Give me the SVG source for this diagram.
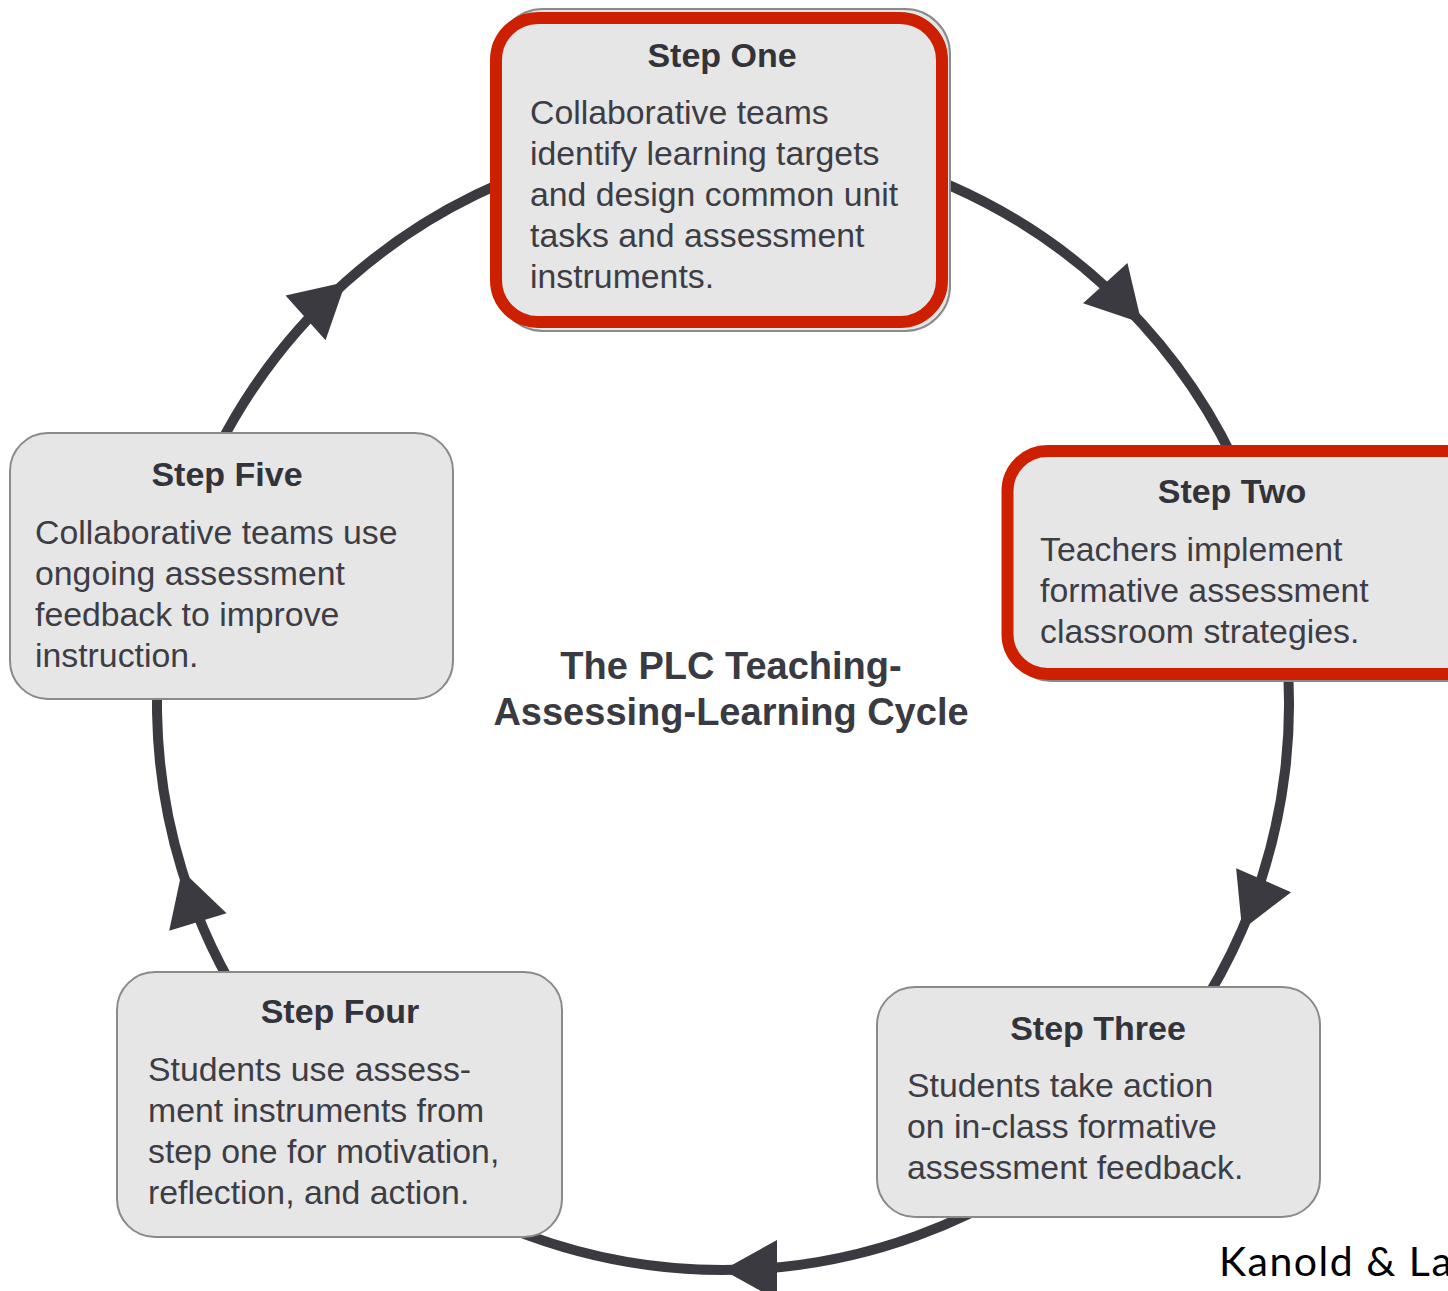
<svg xmlns="http://www.w3.org/2000/svg" width="1448" height="1291" viewBox="0 0 1448 1291">
  <style>
    .box { fill: #e6e6e6; stroke: #8a8a8a; stroke-width: 2; }
    .hl { fill: none; stroke: #cc2000; stroke-width: 12; }
    .title { font-family: "Liberation Sans", Arial, sans-serif; font-weight: bold; font-size: 34px; fill: #33333a; text-anchor: middle; }
    .body { font-family: "Liberation Sans", Arial, sans-serif; font-size: 33.8px; fill: #3d3d45; }
    .center { font-family: "Liberation Sans", Arial, sans-serif; font-weight: bold; font-size: 38px; fill: #3a3a42; text-anchor: middle; }
    .cite { font-family: Lato, "Open Sans", sans-serif; font-size: 41px; letter-spacing: 1.5px; fill: #000000; }
    .arc { fill: none; stroke: #3a3a40; stroke-width: 10; marker-mid: url(#head); }
  </style>
  <defs>
    <marker id="head" markerUnits="userSpaceOnUse" viewBox="0 0 56 60" markerWidth="56" markerHeight="60" refX="54" refY="30" orient="auto" overflow="visible">
      <path d="M0,0 L54,30 L0,60 Z" fill="#3a3a40"/>
    </marker>
  </defs>
  <rect width="1448" height="1291" fill="#ffffff"/>

  <!-- circular cycle arcs: centre (723,704), r 566, arrowhead at the middle vertex -->
  <g id="connectors">
    <path class="arc" d="M723,138 A566,566 0 0 1 1141.6,323.1 A566,566 0 0 1 1254.9,510.4"/>
    <path class="arc" d="M1280.4,605.7 A566,566 0 0 1 1242.1,929.7 A566,566 0 0 1 1156.6,1067.8"/>
    <path class="arc" d="M1086.8,1137.6 A566,566 0 0 1 723,1270 A566,566 0 0 1 359.2,1137.6"/>
    <path class="arc" d="M289.4,1067.8 A566,566 0 0 1 182,870.4 A566,566 0 0 1 176.3,557.5"/>
    <path class="arc" d="M191.1,510.4 A566,566 0 0 1 345.8,282 A566,566 0 0 1 624.7,146.6"/>
  </g>

  <g id="step-one">
    <rect class="box" x="498" y="9" width="452" height="322" rx="45"/>
    <rect class="hl" x="496" y="18" width="446" height="304" rx="42"/>
    <text class="title" x="722" y="67">Step One</text>
    <text class="body" x="530" y="124">Collaborative teams</text>
    <text class="body" x="530" y="165">identify learning targets</text>
    <text class="body" x="530" y="206">and design common unit</text>
    <text class="body" x="530" y="247">tasks and assessment</text>
    <text class="body" x="530" y="288">instruments.</text>
  </g>

  <g id="step-two">
    <rect class="box" x="1011" y="454" width="480" height="227" rx="40"/>
    <rect class="hl" x="1007.5" y="451" width="480" height="223" rx="40"/>
    <text class="title" x="1232" y="503">Step Two</text>
    <text class="body" x="1040" y="561">Teachers implement</text>
    <text class="body" x="1040" y="602">formative assessment</text>
    <text class="body" x="1040" y="643">classroom strategies.</text>
  </g>

  <g id="step-three">
    <rect class="box" x="877" y="987" width="443" height="230" rx="38"/>
    <text class="title" x="1098" y="1040">Step Three</text>
    <text class="body" x="907" y="1097">Students take action</text>
    <text class="body" x="907" y="1138">on in-class formative</text>
    <text class="body" x="907" y="1179">assessment feedback.</text>
  </g>

  <g id="step-four">
    <rect class="box" x="117" y="972" width="445" height="265" rx="38"/>
    <text class="title" x="340" y="1023">Step Four</text>
    <text class="body" x="148" y="1081">Students use assess-</text>
    <text class="body" x="148" y="1122">ment instruments from</text>
    <text class="body" x="148" y="1163">step one for motivation,</text>
    <text class="body" x="148" y="1204">reflection, and action.</text>
  </g>

  <g id="step-five">
    <rect class="box" x="10" y="433" width="443" height="266" rx="38"/>
    <text class="title" x="227" y="486">Step Five</text>
    <text class="body" x="35" y="544">Collaborative teams use</text>
    <text class="body" x="35" y="585">ongoing assessment</text>
    <text class="body" x="35" y="626">feedback to improve</text>
    <text class="body" x="35" y="667">instruction.</text>
  </g>

  <g id="cycle-title">
    <text class="center" x="731" y="679">The PLC Teaching-</text>
    <text class="center" x="731" y="725">Assessing-Learning Cycle</text>
  </g>

  <text class="cite" x="1219" y="1276">Kanold &amp; La</text>
</svg>
